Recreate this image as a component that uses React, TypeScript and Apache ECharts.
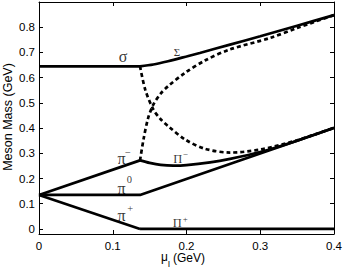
import React, { useEffect, useRef } from 'react';
import * as echarts from 'echarts';

// ---- data (GeV) ----
const xTickValues = [0, 0.1, 0.2, 0.3, 0.4];
const yTickValues = [0, 0.1, 0.2, 0.3, 0.4, 0.5, 0.6, 0.7, 0.8];

const sigmaVacuum = [[0, 0.645], [0.137, 0.645]];
const SigmaCondensed = [
  [0.137, 0.645], [0.155, 0.652], [0.175, 0.665], [0.2, 0.684], [0.218, 0.698],
  [0.259, 0.731], [0.3, 0.764], [0.35, 0.806], [0.4, 0.848],
];
const dashedFalling = [
  [0.137, 0.645], [0.144, 0.553], [0.155, 0.474], [0.165, 0.435], [0.175, 0.408],
  [0.198, 0.355], [0.225, 0.318], [0.259, 0.303], [0.3, 0.315], [0.35, 0.352], [0.4, 0.401],
];
const dashedRising = [
  [0.137, 0.272], [0.142, 0.36], [0.148, 0.44], [0.155, 0.493], [0.165, 0.537],
  [0.175, 0.566], [0.198, 0.619], [0.225, 0.668], [0.259, 0.712], [0.313, 0.757],
  [0.35, 0.797], [0.4, 0.848],
];
const piMinusVacuum = [[0, 0.135], [0.137, 0.272]];
const PiMinusCondensed = [
  [0.137, 0.272], [0.15, 0.262], [0.165, 0.254], [0.182, 0.251], [0.2, 0.253],
  [0.232, 0.264], [0.259, 0.278], [0.3, 0.305], [0.35, 0.35], [0.4, 0.401],
];
const piZero = [[0, 0.135], [0.137, 0.135], [0.4, 0.4]];
const piPlusVacuum = [[0, 0.135], [0.137, 0]];
const PiPlusCondensed = [[0.137, 0], [0.4, 0]];

// annotations (data coordinates)
const annText = ['σ', 'Σ', 'π', '−', 'Π', '−', 'π', '0', 'π', '+', 'Π', '+'];
const annX = [0.114, 0.187, 0.112, 0.1205, 0.188, 0.1985, 0.112, 0.1225, 0.112, 0.1235, 0.1875, 0.1985];
const annY = [0.684, 0.70, 0.281, 0.305, 0.279, 0.298, 0.16, 0.195, 0.052, 0.081, 0.022, 0.041];
const annKind = ['big', 'small', 'big', 'sup', 'mid', 'supS', 'big', 'sup', 'big', 'sup', 'mid', 'supS'];

const kindSize: Record<string, number> = { big: 16, mid: 12.5, small: 11, sup: 10.5, supS: 9 };

export default function App() {
  const ref = useRef<HTMLDivElement>(null);
  useEffect(() => {
    if (!ref.current) return;
    const chart = echarts.init(ref.current, null, { renderer: 'svg' });
    const sans = 'Liberation Sans';
    const serif = 'Liberation Serif';
    const axisCommon = {
      axisLine: { show: true, onZero: false, lineStyle: { color: '#000', width: 1 } },
      splitLine: { show: false },
    };
    const solid = (name: string, data: number[][], smooth: boolean | number = false) => ({
      name, type: 'line', data, smooth, symbol: 'none', showSymbol: false,
      lineStyle: { color: '#000', width: 2.7, type: 'solid' }, z: 3,
    });
    const dashed = (name: string, data: number[][]) => ({
      name, type: 'line', data, smooth: 0.3, symbol: 'none', showSymbol: false,
      lineStyle: { color: '#000', width: 2.7, type: [4, 3] }, z: 2,
    });
    const option: any = {
      animation: false,
      backgroundColor: '#fff',
      grid: { left: 39, right: 12, top: 2, bottom: 34, containLabel: false },
      xAxis: [
        {
          type: 'value', min: 0, max: 0.4, interval: 0.1, position: 'bottom', ...axisCommon,
          axisTick: { inside: true, length: 4, lineStyle: { color: '#000' } },
          axisLabel: {
            color: '#000', fontSize: 11.5, fontFamily: sans, margin: 6,
            formatter: (v: number) => String(+v.toFixed(1)),
          },
        },
        {
          type: 'value', min: 0, max: 0.4, interval: 0.1, position: 'top', ...axisCommon,
          axisTick: { inside: true, length: 4, lineStyle: { color: '#000' } },
          axisLabel: { show: false },
        },
      ],
      yAxis: [
        {
          type: 'value', min: -0.02, max: 0.9, position: 'left', ...axisCommon,
          axisTick: { inside: true, length: 4, customValues: yTickValues, lineStyle: { color: '#000' } },
          axisLabel: {
            color: '#000', fontSize: 11.5, fontFamily: sans, margin: 4, customValues: yTickValues,
            formatter: (v: number) => String(+v.toFixed(1)),
          },
        },
        {
          type: 'value', min: -0.02, max: 0.9, position: 'right', ...axisCommon,
          axisTick: { inside: true, length: 4, customValues: yTickValues, lineStyle: { color: '#000' } },
          axisLabel: { show: false },
        },
      ],
      series: [
        dashed('dashedFalling', dashedFalling),
        dashed('dashedRising', dashedRising),
        solid('sigma', sigmaVacuum),
        solid('Sigma', SigmaCondensed, 0.3),
        solid('piMinus', piMinusVacuum),
        solid('PiMinus', PiMinusCondensed, 0.3),
        solid('pi0', piZero),
        solid('piPlus', piPlusVacuum),
        solid('PiPlus', PiPlusCondensed),
        {
          name: 'labels', type: 'scatter', symbolSize: 1, z: 5,
          itemStyle: { color: 'rgba(0,0,0,0)' },
          data: annText.map((t, i) => ({
            value: [annX[i], annY[i]],
            label: {
              show: true, position: 'inside', formatter: t, color: '#000',
              fontFamily: serif, fontSize: kindSize[annKind[i]],
              align: 'center', verticalAlign: 'middle',
            },
          })),
        },
      ],
      graphic: [
        {
          type: 'text', x: 8, y: 117, rotation: Math.PI / 2,
          style: {
            text: 'Meson Mass (GeV)', fill: '#000', font: `12.5px "${sans}"`,
            textAlign: 'center', textVerticalAlign: 'middle',
          },
        },
        {
          type: 'text', x: 164.5, y: 257,
          style: { text: 'μ', fill: '#000', font: `12px "${sans}"`, textAlign: 'center', textVerticalAlign: 'middle' },
        },
        {
          type: 'text', x: 169, y: 264,
          style: { text: 'I', fill: '#000', font: `8.5px "${sans}"`, textAlign: 'center', textVerticalAlign: 'middle' },
        },
        {
          type: 'text', x: 173, y: 257.5,
          style: { text: '(GeV)', fill: '#000', font: `12px "${sans}"`, textAlign: 'left', textVerticalAlign: 'middle' },
        },
      ],
    };
    chart.setOption(option);
    return () => chart.dispose();
  }, []);
  return (
    <div
      ref={ref}
      style={{ position: 'fixed', left: 0, top: 0, width: 346, height: 268, background: '#fff' }}
    />
  );
}
